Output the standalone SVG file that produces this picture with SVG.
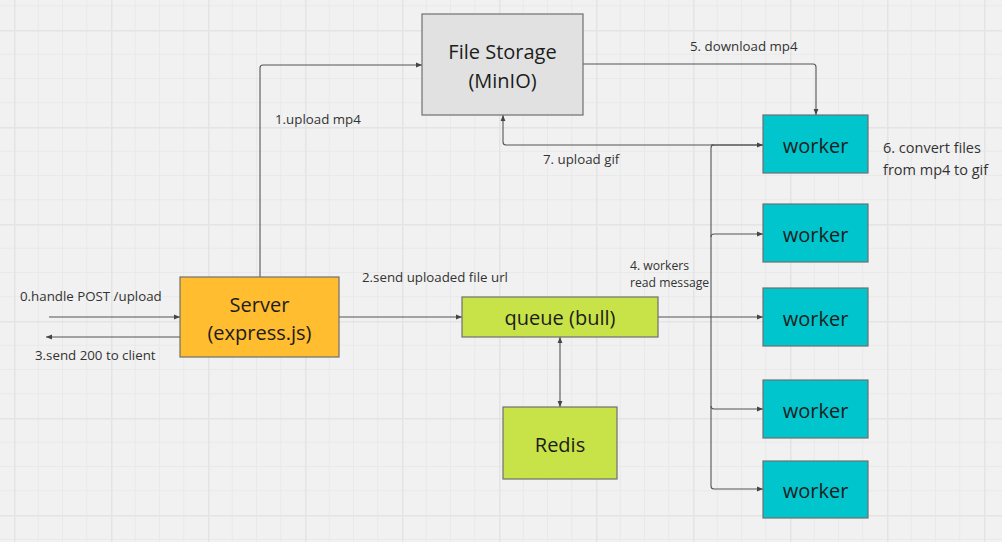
<svg xmlns="http://www.w3.org/2000/svg" width="1002" height="542" viewBox="0 0 1002 542">
<defs>
<pattern id="grid" patternUnits="userSpaceOnUse" x="14" y="30" width="97" height="97">
<rect width="97" height="97" fill="#f1f1f1"/>
<path d="M24.25 0V97M48.5 0V97M72.75 0V97M0 24.25H97M0 48.5H97M0 72.75H97" stroke="#e9e9e9" stroke-width="1" fill="none"/>
<path d="M0.5 0V97M0 0.5H97" stroke="#e4e4e4" stroke-width="2" fill="none"/>
</pattern>
<marker id="arr" viewBox="0 0 10 10" refX="10" refY="5" markerWidth="6" markerHeight="6" orient="auto-start-reverse" markerUnits="userSpaceOnUse">
<path d="M0 1L10 5L0 9Z" fill="#444"/>
</marker>
<style>
.node{stroke:#6f6f6f;stroke-width:1.2}
.nt{font-family:"Open Sans","Noto Sans",sans-serif;font-size:20px;fill:#1c1c1c;text-anchor:middle}
.lb{font-family:"Open Sans","Noto Sans",sans-serif;font-size:13.3px;fill:#333}
.sm{font-size:12.2px}
.lg{font-size:14.5px}
.c{fill:none;stroke:#555;stroke-width:1.1}
</style>
</defs>
<rect width="1002" height="542" fill="url(#grid)"/>

<g id="connectors">
<path class="c" d="M49 317H180" marker-end="url(#arr)"/>
<path class="c" d="M180 337H46" marker-end="url(#arr)"/>
<path class="c" d="M260 277V68Q260 65 263 65H422" marker-end="url(#arr)"/>
<path class="c" d="M339 317H462" marker-end="url(#arr)"/>
<path class="c" d="M583 64H813Q816 64 816 67V115" marker-end="url(#arr)"/>
<path class="c" d="M560 337V407" marker-start="url(#arr)" marker-end="url(#arr)"/>
<path class="c" d="M763 145H506Q503 145 503 142V115" marker-end="url(#arr)"/>
<path class="c" d="M658 317H763" marker-end="url(#arr)"/>
<path class="c" d="M714 145Q711 145 711 148V486Q711 489 714 489H763" marker-end="url(#arr)"/>
<path class="c" d="M711 145H763" marker-end="url(#arr)"/>
<path class="c" d="M711 237Q711 234 714 234H763" marker-end="url(#arr)"/>
<path class="c" d="M711 406Q711 409 714 409H763" marker-end="url(#arr)"/>
</g>

<g id="storage">
<rect class="node" x="422" y="14" width="161" height="101" fill="#e1e1e1"/>
<text class="nt" x="502.5" y="59">File Storage</text>
<text class="nt" x="502.5" y="88">(MinIO)</text>
</g>
<g id="server">
<rect class="node" x="180" y="277" width="159" height="80" fill="#ffbd2f"/>
<text class="nt" x="259.5" y="312">Server</text>
<text class="nt" x="259.5" y="340">(express.js)</text>
</g>
<g id="queue">
<rect class="node" x="462" y="297" width="196" height="40" fill="#c8e347"/>
<text class="nt" x="560" y="325">queue (bull)</text>
</g>
<g id="redis">
<rect class="node" x="503" y="407" width="114" height="72" fill="#c8e347"/>
<text class="nt" x="560" y="452">Redis</text>
</g>
<g id="worker1">
<rect class="node" x="763" y="115" width="105" height="58" fill="#00c5cd"/>
<text class="nt" x="815.5" y="153">worker</text>
</g>
<g id="worker2">
<rect class="node" x="763" y="204" width="105" height="58" fill="#00c5cd"/>
<text class="nt" x="815.5" y="242">worker</text>
</g>
<g id="worker3">
<rect class="node" x="763" y="288" width="105" height="58" fill="#00c5cd"/>
<text class="nt" x="815.5" y="326">worker</text>
</g>
<g id="worker4">
<rect class="node" x="763" y="380" width="105" height="58" fill="#00c5cd"/>
<text class="nt" x="815.5" y="418">worker</text>
</g>
<g id="worker5">
<rect class="node" x="763" y="461" width="105" height="57" fill="#00c5cd"/>
<text class="nt" x="815.5" y="498">worker</text>
</g>

<g id="labels">
<text class="lb" x="20" y="301">0.handle POST /upload</text>
<text class="lb" x="35" y="360">3.send 200 to client</text>
<text class="lb" x="275" y="124">1.upload mp4</text>
<text class="lb" x="362" y="282">2.send uploaded file url</text>
<text class="lb" x="690" y="51">5. download mp4</text>
<text class="lb" x="543" y="164">7. upload gif</text>
<text class="lb lg" x="883" y="153">6. convert files</text>
<text class="lb lg" x="883" y="175">from mp4 to gif</text>
<text class="lb sm" x="630" y="270">4. workers</text>
<text class="lb sm" x="630" y="287">read message</text>
</g>
</svg>
